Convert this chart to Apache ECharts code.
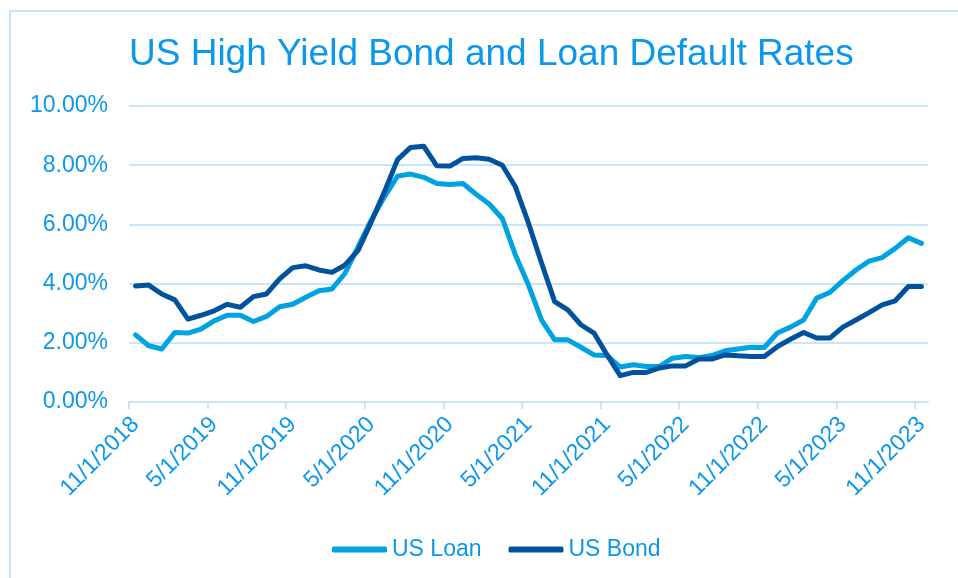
<!DOCTYPE html>
<html>
<head>
<meta charset="utf-8">
<script src="https://cdn.jsdelivr.net/npm/echarts@6/dist/echarts.min.js"></script>
<style>
	html, body { margin: 0; padding: 0; background: #fff; }
	#chart { width: 958px; height: 578px; }
</style>
</head>
<body>
<div id="chart"></div>
<script>
	// monthly default rates (%), Nov 2018 .. Nov 2023
	var loanRates = [2.27, 1.90, 1.79, 2.35, 2.33, 2.46, 2.74, 2.93, 2.93, 2.72, 2.89, 3.22, 3.30, 3.54, 3.76, 3.82, 4.35, 5.25, 6.15, 6.93,
		7.63, 7.70, 7.59, 7.38, 7.35, 7.38, 7.02, 6.69, 6.20, 4.97, 3.95, 2.77, 2.10, 2.10, 1.85, 1.59, 1.57, 1.18, 1.26, 1.20,
		1.20, 1.48, 1.54, 1.50, 1.57, 1.73, 1.79, 1.85, 1.84, 2.33, 2.53, 2.77, 3.51, 3.70, 4.10, 4.46, 4.76, 4.88, 5.19, 5.55, 5.36];
	var bondRates = [3.92, 3.95, 3.65, 3.45, 2.80, 2.93, 3.08, 3.30, 3.20, 3.56, 3.65, 4.16, 4.54, 4.60, 4.46, 4.38, 4.63, 5.13, 6.09, 7.10,
		8.19, 8.60, 8.64, 7.98, 7.97, 8.23, 8.25, 8.20, 8.00, 7.27, 6.04, 4.69, 3.39, 3.11, 2.61, 2.33, 1.59, 0.89, 1.00, 1.00,
		1.15, 1.22, 1.22, 1.45, 1.45, 1.59, 1.56, 1.54, 1.54, 1.87, 2.12, 2.35, 2.16, 2.16, 2.53, 2.77, 3.02, 3.28, 3.42, 3.90, 3.90];
	// one label every 6 months
	var tickLabels = ['11/1/2018', '5/1/2019', '11/1/2019', '5/1/2020', '11/1/2020', '5/1/2021',
		'11/1/2021', '5/1/2022', '11/1/2022', '5/1/2023', '11/1/2023'];
	var seriesNames = ['US Loan', 'US Bond'];

	var textColor = '#0c98ea';
	var gridColor = '#c8e5f9';
	var font = '"Liberation Sans", Arial, sans-serif';

	// month i sits in the middle of its month slot
	function toPoints(arr){
		var out = [];
		for(var i = 0; i < arr.length; i++)
			out.push([i + 0.5, arr[i]]);
		return out;
	}

	var tickValues = [];
	var labelValues = [];
	for(var k = 0; k < tickLabels.length; k++){
		tickValues.push(k * 6);
		labelValues.push(k * 6 + 0.5);
	}

	var chart = echarts.init(document.getElementById('chart'));
	chart.setOption({
		animation: false,
		backgroundColor: '#ffffff',
		textStyle: { fontFamily: font },
		title: {
			text: 'US High Yield Bond and Loan Default Rates',
			left: 124,
			top: 31,
			textStyle: { color: textColor, fontSize: 37, fontWeight: 'normal', fontFamily: font }
		},
		legend: {
			data: seriesNames,
			left: 327,
			top: 533,
			icon: 'roundRect',
			itemWidth: 55,
			itemHeight: 6,
			itemGap: 27,
			textStyle: { color: textColor, fontSize: 23, fontFamily: font }
		},
		grid: {
			left: 129,
			right: 30,
			top: 106,
			bottom: 176
		},
		xAxis: {
			type: 'value',
			min: 0,
			max: loanRates.length,
			axisLine: { lineStyle: { color: gridColor, width: 2 } },
			axisTick: { show: true, length: 7, customValues: tickValues, lineStyle: { color: gridColor, width: 2 } },
			splitLine: { show: false },
			axisLabel: {
				customValues: labelValues,
				rotate: 45,
				margin: 19,
				color: textColor,
				fontSize: 23,
				fontFamily: font,
				formatter: function(value){
					var idx = Math.round((value - 0.5) / 6);
					return tickLabels[idx] || '';
				}
			}
		},
		yAxis: {
			type: 'value',
			min: 0,
			max: 10,
			interval: 2,
			axisLine: { show: false },
			axisTick: { show: false },
			splitLine: { lineStyle: { color: gridColor, width: 2 } },
			axisLabel: {
				margin: 21,
				color: textColor,
				fontSize: 23,
				fontFamily: font,
				formatter: function(value){
					return value.toFixed(2) + '%';
				}
			}
		},
		series: [
			{
				name: seriesNames[0],
				type: 'line',
				data: toPoints(loanRates),
				showSymbol: false,
				color: '#00a3e0',
				lineStyle: { width: 5, color: '#00a3e0', cap: 'round', join: 'round' }
			},
			{
				name: seriesNames[1],
				type: 'line',
				data: toPoints(bondRates),
				showSymbol: false,
				color: '#00529c',
				lineStyle: { width: 5, color: '#00529c', cap: 'round', join: 'round' }
			}
		],
		graphic: [
			{
				type: 'rect',
				shape: { x: 10, y: 11, width: 1000, height: 1000 },
				style: { fill: null, stroke: '#c6e4fa', lineWidth: 2 },
				silent: true
			}
		]
	});
</script>
</body>
</html>
